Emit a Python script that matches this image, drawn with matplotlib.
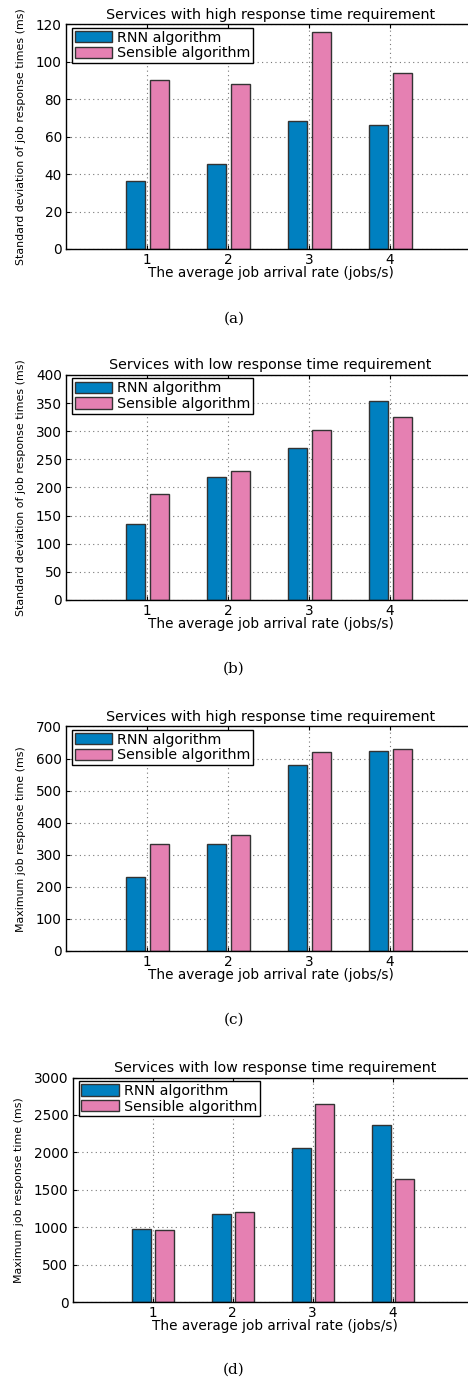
import matplotlib.pyplot as plt
import numpy as np

rates = [1, 2, 3, 4]
labels = ["RNN algorithm", "Sensible algorithm"]

# std deviation, high / low response time requirement
std_high_rnn = [36.4, 45.3, 68.3, 66.1]
std_high_sensible = [90.3, 88.0, 116.1, 94.2]
std_low_rnn = [134.5, 218, 271, 354.5]
std_low_sensible = [189, 229.5, 301.5, 326]

# maximum response time, high / low requirement
max_high_rnn = [232, 334, 580, 622]
max_high_sensible = [333, 363, 620, 631]
max_low_rnn = [975, 1171, 2065, 2363]
max_low_sensible = [957, 1197, 2644, 1638]

BLUE = "#0080c0"
PINK = "#e580b2"
EDGE = "#333333"

panels = [
    dict(rnn=std_high_rnn, sens=std_high_sensible, ymax=120, step=20,
         title="Services with high response time requirement",
         ylabel="Standard deviation of job response times (ms)",
         pos=[0.141, 0.8201, 0.874, 0.1622], cap="(a)", cap_y=0.770),
    dict(rnn=std_low_rnn, sens=std_low_sensible, ymax=400, step=50,
         title="Services with low response time requirement",
         ylabel="Standard deviation of job response times (ms)",
         pos=[0.141, 0.5665, 0.874, 0.1626], cap="(b)", cap_y=0.517),
    dict(rnn=max_high_rnn, sens=max_high_sensible, ymax=700, step=100,
         title="Services with high response time requirement",
         ylabel="Maximum job response time (ms)",
         pos=[0.141, 0.3129, 0.874, 0.1622], cap="(c)", cap_y=0.263),
    dict(rnn=max_low_rnn, sens=max_low_sensible, ymax=3000, step=500,
         title="Services with low response time requirement",
         ylabel="Maximum job response time (ms)",
         pos=[0.155, 0.0592, 0.864, 0.1622], cap="(d)", cap_y=0.0101),
]

fig = plt.figure(figsize=(4.68, 13.84), dpi=100)
x = np.array(rates, dtype=float)
w = 0.235

for p in panels:
    ax = fig.add_axes(p["pos"])
    ax.set_axisbelow(True)
    ax.grid(True, linestyle=(0, (1, 3)), color="#777777", linewidth=0.8)
    ax.bar(x - 0.14, p["rnn"], w, color=BLUE, edgecolor=EDGE, linewidth=1.0,
           label=labels[0])
    ax.bar(x + 0.15, p["sens"], w, color=PINK, edgecolor=EDGE, linewidth=1.0,
           label=labels[1])
    # the axes run a little past the right edge of the figure
    ax.set_xlim(0, 5.05)
    ax.set_ylim(0, p["ymax"])
    ax.set_xticks(rates)
    ax.set_yticks(np.arange(0, p["ymax"] + 1, p["step"]))
    ax.tick_params(direction="in", length=3, labelsize=9.8, pad=3,
                   top=True, right=True)
    for s in ax.spines.values():
        s.set_linewidth(1.0)
    ax.set_title(p["title"], fontsize=10.3, pad=4)
    ax.set_xlabel("The average job arrival rate (jobs/s)", fontsize=9.8,
                  labelpad=-1)
    ax.set_ylabel(p["ylabel"], fontsize=7.9, family="Liberation Sans Narrow",
                  labelpad=7)
    leg = ax.legend(loc="upper left", bbox_to_anchor=(0.015, 0.985),
                    fontsize=10.3, handlelength=2.6, handleheight=0.85,
                    handletextpad=0.35, borderpad=0.2, labelspacing=0.12,
                    borderaxespad=0, fancybox=False, framealpha=1)
    leg.get_frame().set_edgecolor("black")
    leg.get_frame().set_linewidth(1.0)
    for h in leg.legend_handles:
        h.set_edgecolor(EDGE)
    fig.text(0.5, p["cap_y"], p["cap"], ha="center", va="center",
             fontsize=11, family="DejaVu Serif")

fig.savefig("out.png", dpi=100)
